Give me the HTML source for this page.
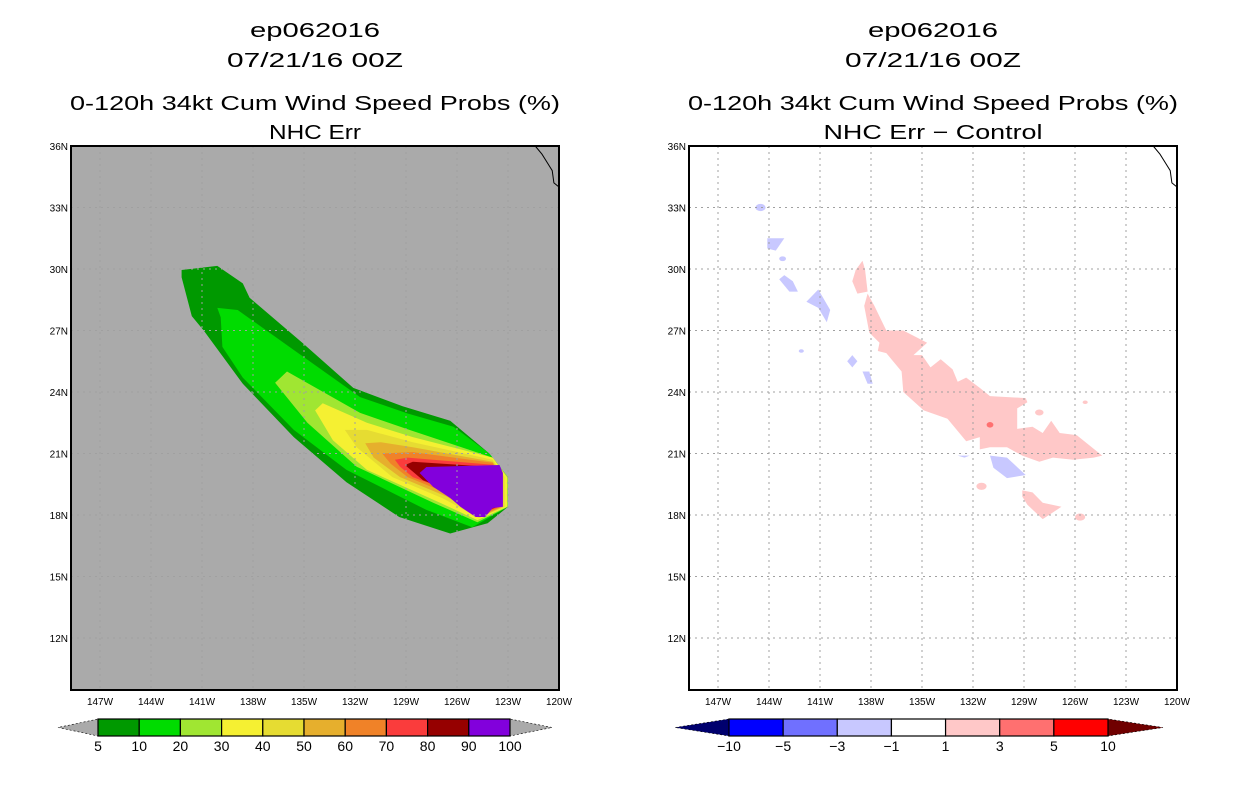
<!DOCTYPE html>
<html><head><meta charset="utf-8"><style>
html,body{margin:0;padding:0;background:#fff;width:1236px;height:800px;overflow:hidden}
svg text{font-family:"Liberation Sans",sans-serif}
</style></head><body>
<svg id="c" width="1236" height="800" xmlns="http://www.w3.org/2000/svg"></svg>
<script>
const lonTicks=[147,144,141,138,135,132,129,126,123,120];
const latTicks=[12,15,18,21,24,27,30,33,36];
const probLevels=["5","10","20","30","40","50","60","70","80","90","100"];
const probColors=["#009900","#00dc00","#a0e632","#f5f032","#e6dc32","#e6af2d","#f08228","#fa3c3c","#960000","#8200dc"];
const diffLevels=["−10","−5","−3","−1","1","3","5","10"];
const diffColors=["#0000ff","#7070ff","#c8c8ff","#ffffff","#ffc8c8","#ff7070","#ff0000"];
const p5=[[142.2,29.95],[140.1,30.15],[138.6,29.3],[138.2,28.6],[135.1,26.4],[132.1,24.2],[129.2,23.3],[126.4,22.6],[124.1,21.0],[123.0,19.85],[123.0,18.4],[124.2,17.6],[126.4,17.1],[129.4,17.9],[132.5,19.6],[135.6,21.8],[138.6,24.4],[140.9,27.0],[141.6,27.7],[142.2,29.6]];
const p10=[[140.1,28.1],[138.9,28.0],[135.6,26.05],[131.7,23.75],[128.9,22.95],[126.2,22.3],[124.1,21.0],[123.0,19.85],[123.0,18.4],[125.1,17.4],[127.8,18.25],[132.5,20.2],[135.6,22.15],[138.6,24.7],[139.8,26.2],[139.9,27.65]];
const p20=[[136.7,24.45],[136.0,25.0],[131.7,22.98],[128.8,22.15],[123.9,20.8],[123.0,19.85],[123.0,18.4],[124.8,17.65],[127.4,18.6],[131.9,20.35],[134.8,22.5]];
const p30=[[134.35,23.1],[133.9,23.45],[131.3,22.5],[128.6,21.8],[123.9,20.8],[123.06,19.85],[123.06,18.4],[124.8,17.75],[127.0,18.6],[131.3,20.2],[133.3,21.65]];
const p40=[[132.6,22.15],[131.3,22.15],[128.6,21.55],[123.9,20.7],[123.2,19.85],[123.2,18.4],[124.7,17.85],[126.8,18.8],[129.8,19.85],[131.9,21.3]];
const p50=[[131.4,21.5],[130.5,21.55],[128.6,21.3],[123.9,20.6],[123.3,19.85],[123.3,18.4],[124.6,17.9],[126.6,18.9],[129.35,19.85],[130.9,20.8]];
const p60=[[130.4,21.0],[128.6,21.07],[123.9,20.55],[123.4,19.85],[123.4,18.4],[124.5,18.0],[126.4,19.0],[128.9,19.85],[129.9,20.5]];
const p70=[[129.65,20.7],[128.9,20.8],[123.9,20.45],[123.5,19.85],[123.5,18.4],[124.5,18.1],[126.2,19.1],[128.6,19.85],[129.35,20.35]];
const p80=[[129.06,20.44],[128.6,20.6],[123.9,20.34],[123.6,19.85],[123.6,18.4],[124.5,18.15],[126.2,19.1],[128.0,19.7]];
const p90=[[128.2,20.05],[127.8,20.34],[123.5,20.44],[123.3,20.05],[123.3,18.4],[123.9,18.34],[124.35,17.9],[124.9,17.9],[125.8,18.4],[126.4,18.83],[127.4,19.37]];
const probContours=[p5,p10,p20,p30,p40,p50,p60,p70,p80,p90];
const pinkMain=[[138.2,28.8],[137.8,28.2],[137.1,27.0],[136.1,27.0],[134.7,26.4],[135.5,25.8],[135.0,25.8],[134.5,25.2],[133.9,25.6],[133.2,25.1],[132.9,24.5],[132.4,24.7],[131.6,24.2],[131.0,23.8],[128.9,23.7],[128.8,23.5],[129.4,23.2],[129.4,22.2],[128.5,22.3],[127.9,22.0],[127.4,22.6],[126.9,22.0],[125.9,21.9],[124.4,20.9],[124.9,20.8],[126.1,20.7],[127.3,20.8],[128.1,20.6],[129.1,20.9],[130.0,21.3],[131.0,21.3],[131.6,21.2],[131.6,21.8],[132.4,21.6],[133.5,22.7],[134.9,23.1],[136.1,24.0],[136.2,25.0],[137.1,25.9],[137.6,26.0],[137.5,26.4],[138.1,26.9],[138.4,28.2]];
const pinkTop=[[138.5,30.4],[138.35,29.95],[138.2,28.9],[138.8,28.8],[139.1,29.4],[138.9,29.95]];
const pinkLow=[[129.1,19.2],[128.5,19.1],[127.9,18.6],[126.8,18.4],[127.9,17.8],[128.8,18.5],[129.1,18.9]];
const pinkDots=[[128.1,23.0,0.25],[125.4,23.5,0.15],[131.5,19.4,0.3],[125.7,17.9,0.3]];
const redDot=[131.0,22.4,0.2];
const blueBlobs=[
[[144.1,31.5],[143.1,31.5],[143.6,30.9],[144.1,31.0]],
[[143.1,29.7],[142.6,29.4],[142.3,28.9],[142.8,28.9],[143.4,29.5]],
[[141.8,28.4],[141.1,29.0],[140.4,28.0],[140.6,27.4],[141.1,28.1]],
[[139.1,25.8],[138.8,25.5],[139.1,25.2],[139.4,25.5]],
[[138.5,25.0],[138.1,25.0],[137.9,24.4],[138.2,24.4]],
[[132.9,20.9],[132.2,20.9],[132.5,20.8]],
[[131.0,20.9],[130.0,20.8],[128.9,19.95],[130.0,19.8],[130.8,20.3]]];
const blueDots=[[144.5,33.0,0.3],[143.2,30.5,0.2],[142.1,26.0,0.15]];
const coast=[[121.4,36],[121.0,35.6],[120.7,35.2],[120.4,34.8],[120.3,34.2],[120,34.0]];

const svg=document.getElementById('c');
const NS='http://www.w3.org/2000/svg';
function mk(t,a,p){const e=document.createElementNS(NS,t);for(const k in a)e.setAttribute(k,a[k]);(p||svg).appendChild(e);return e;}
const W0=71,Y0=146,PW=488,PH=544;
function xs(off,lon){return off+W0+PW-(lon-120)*17;}
function ys(lat){return Y0+(36-lat)*20.5;}
function pts(off,arr){return arr.map(p=>xs(off,p[0]).toFixed(1)+','+ys(p[1]).toFixed(1)).join(' ');}

function panel(off,bg,t3,t4,w4,name){
  const g=mk('g',{});
  
  
  const cx=off+W0+PW/2;
  [['ep062016',37,'title-storm',130],['07/21/16 00Z',67,'title-date',176],[t3,110,'title-product',490],[t4,139,'subtitle',w4]].forEach(t=>{
    const e=mk('text',{x:cx,y:t[1],'text-anchor':'middle','font-size':'20',fill:'#000',textLength:t[3],lengthAdjust:'spacingAndGlyphs'},g);
    e.textContent=t[0];
    
    
  });
  const r=mk('rect',{x:off+W0,y:Y0,width:PW,height:PH,fill:bg},g);
  
  
  const layer=mk('g',{},g);
  
  
  const grid=mk('g',{stroke:'#a0a0a0','stroke-width':'1','stroke-dasharray':'2,4',fill:'none'},g);
  
  
  lonTicks.slice(0,-1).forEach(l=>{const x=xs(off,l);mk('line',{x1:x,y1:Y0,x2:x,y2:Y0+PH},grid);});
  latTicks.slice(0,-1).forEach(l=>{const y=ys(l);mk('line',{x1:off+W0,y1:y,x2:off+W0+PW,y2:y},grid);});
  const cl=mk('polyline',{points:pts(off,coast),fill:'none',stroke:'#000','stroke-width':'1'},g);
  
  
  const fr=mk('rect',{x:off+W0,y:Y0,width:PW,height:PH,fill:'none',stroke:'#000','stroke-width':'2'},g);
  
  
  lonTicks.forEach(l=>{const e=mk('text',{x:xs(off,l),y:705,'text-anchor':'middle','font-size':'10'},g);e.textContent=l+'W';
    });
  latTicks.forEach(l=>{const e=mk('text',{x:off+W0-3,y:ys(l)+4,'text-anchor':'end','font-size':'10'},g);e.textContent=l+'N';
    });
  return layer;
}
const L=panel(0,'#aaaaaa','0-120h 34kt Cum Wind Speed Probs (%)','NHC Err',92,'left-panel');
probContours.forEach((c,i)=>{const e=mk('polygon',{points:pts(0,c),fill:probColors[i]},L);
  });
const R=panel(618,'#ffffff','0-120h 34kt Cum Wind Speed Probs (%)','NHC Err − Control',219,'right-panel');
[pinkMain,pinkTop,pinkLow].forEach(c=>{const e=mk('polygon',{points:pts(618,c),fill:'#ffc8c8'},R);
  });
pinkDots.forEach(d=>{const e=mk('ellipse',{cx:xs(618,d[0]),cy:ys(d[1]),rx:d[2]*17,ry:d[2]*12,fill:'#ffc8c8'},R);
  });
{const e=mk('ellipse',{cx:xs(618,redDot[0]),cy:ys(redDot[1]),rx:redDot[2]*17,ry:redDot[2]*14,fill:'#ff7070'},R);
 }
blueBlobs.forEach(c=>{const e=mk('polygon',{points:pts(618,c),fill:'#c8c8ff'},R);
  });
blueDots.forEach(d=>{const e=mk('ellipse',{cx:xs(618,d[0]),cy:ys(d[1]),rx:d[2]*17,ry:d[2]*12,fill:'#c8c8ff'},R);
  });

function colorbar(x0,x1,tl,tr,colors,labels,lowC,highC,name){
  const g=mk('g',{});
  
  
  const y0=719,y1=736,ym=727.5,bw=(x1-x0)/colors.length;
  const a=mk('polygon',{points:`${x0},${y0} ${x0},${y1} ${tl},${ym}`,fill:lowC,stroke:'#000','stroke-width':'0.6','stroke-dasharray':'2,2'},g);
  
  const b=mk('polygon',{points:`${x1},${y0} ${x1},${y1} ${tr},${ym}`,fill:highC,stroke:'#000','stroke-width':'0.6','stroke-dasharray':'2,2'},g);
  
  colors.forEach((c,i)=>{const r=mk('rect',{x:x0+i*bw,y:y0,width:bw,height:y1-y0,fill:c,stroke:'#000','stroke-width':'1.2'},g);
    });
  labels.forEach((l,i)=>{const t=mk('text',{x:x0+i*bw,y:751,'text-anchor':'middle','font-size':'14'},g);t.textContent=l;
    });
}
colorbar(98,510,58,552,probColors,probLevels,'#aaaaaa','#aaaaaa','prob-colorbar');
colorbar(729,1108,675,1163,diffColors,diffLevels,'#00006e','#700000','diff-colorbar');
</script>
</body></html>
